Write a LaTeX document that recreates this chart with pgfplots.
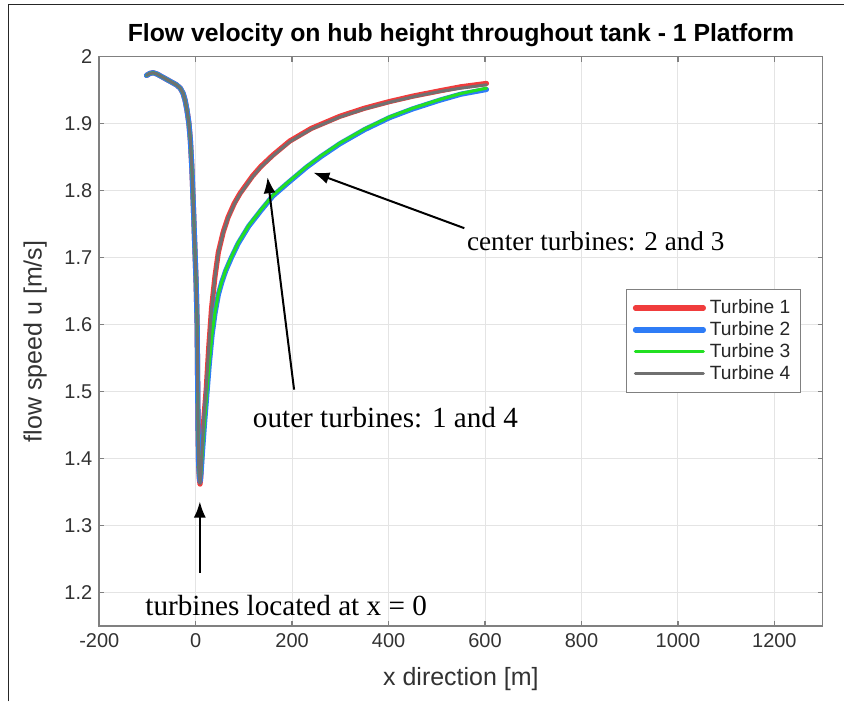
\documentclass[border=0pt]{standalone}
\usepackage{fontspec}
\setmainfont{Liberation Sans}
\newfontfamily\timesfont{Liberation Serif}
\usepackage{pgfplots}
\pgfplotsset{compat=1.18}
\usetikzlibrary{arrows.meta}

\definecolor{tred}{RGB}{240,60,60}
\definecolor{tblue}{RGB}{46,124,246}
\definecolor{tgreen}{RGB}{34,224,34}
\definecolor{tgray}{RGB}{112,112,112}
\definecolor{axgray}{RGB}{128,128,128}
\definecolor{gridgray}{RGB}{228,228,228}
\definecolor{lblgray}{RGB}{50,50,50}

\begin{document}
\begin{tikzpicture}
\begin{axis}[
    scale only axis,
    width=362pt, height=285pt,
    xmin=-200, xmax=1300,
    ymin=1.15, ymax=2,
    xtick={-200,0,200,400,600,800,1000,1200},
    ytick={1.2,1.3,1.4,1.5,1.6,1.7,1.8,1.9,2},
    scaled x ticks=false,
    /pgf/number format/assume math mode=true,
    /pgf/number format/1000 sep={},
    grid=major,
    major grid style={gridgray, line width=0.5pt},
    axis line style={axgray, line width=0.8pt},
    tick style={axgray, line width=0.8pt},
    tick align=inside,
    tick pos=both,
    major tick length=2.5pt,
    tick label style={font=\fontsize{10}{12}\selectfont, text=lblgray},
    label style={font=\fontsize{12.5}{14}\selectfont, text=lblgray},
    xlabel style={yshift=-3pt},
    ylabel style={yshift=2pt},
    xlabel={x direction [m]},
    ylabel={flow speed u [m/s]},
    title={\bfseries Flow velocity on hub height throughout tank - 1 Platform},
    title style={font=\fontsize{12.4}{14}\selectfont, yshift=-4.5pt},
    clip=false,
    legend cell align=left,
    legend style={at={(axis description cs:0.970,0.592)}, anchor=north east,
        draw=axgray, line width=0.6pt, font=\fontsize{9.6}{11}\selectfont,
        text=black!85, inner sep=3pt, row sep=-1.5pt},
    legend image code/.code={\draw[#1] (0pt,0pt) -- (34pt,0pt);},
    every axis plot/.append style={line join=round, line cap=round},
]
\addplot[tred, line width=2.6pt] coordinates {
(-102,1.972) (-95,1.975) (-88,1.976) (-80,1.974) (-70,1.970) (-60,1.966)
(-50,1.962) (-40,1.958) (-32,1.953) (-26,1.945) (-22,1.935) (-18,1.920)
(-14,1.900) (-11,1.875) (-8,1.835) (-5,1.780) (-2,1.720) (1,1.660)
(3,1.600) (4,1.520) (5,1.440) (6,1.395) (7.5,1.370) (9,1.362) (10.5,1.372)
(13,1.410) (17,1.460) (22,1.505) (27,1.565) (33,1.625) (40,1.672)
(47,1.708) (57,1.738) (67,1.760) (80,1.781) (92,1.796) (102,1.806)
(118,1.822) (135,1.836) (160,1.853) (195,1.874) (240,1.893) (299,1.911)
(350,1.923) (402,1.933) (450,1.941) (506,1.949) (550,1.955) (603,1.960)
};
\addlegendentry{Turbine 1}
\addplot[tblue, line width=2.6pt] coordinates {
(-102,1.972) (-95,1.975) (-88,1.976) (-80,1.974) (-70,1.970) (-60,1.966)
(-50,1.962) (-40,1.958) (-32,1.953) (-26,1.945) (-22,1.935) (-18,1.920)
(-14,1.900) (-11,1.875) (-8,1.835) (-5,1.780) (-2,1.720) (1,1.660)
(3,1.600) (4,1.520) (5,1.440) (6,1.398) (7.5,1.374) (9,1.366) (11,1.378)
(14,1.410) (18,1.450) (23,1.495) (28,1.540) (34,1.585) (40,1.617)
(47,1.645) (54,1.663) (62,1.680) (74,1.700) (88,1.721) (110,1.747) (136,1.771)
(160,1.792) (192,1.812) (230,1.835) (260,1.851) (299,1.870) (350,1.891)
(402,1.909) (450,1.922) (506,1.935) (550,1.944) (603,1.951)
};
\addlegendentry{Turbine 2}
\addplot[tgreen, line width=1.5pt] coordinates {
(-102,1.972) (-95,1.975) (-88,1.976) (-80,1.974) (-70,1.970) (-60,1.966)
(-50,1.962) (-40,1.958) (-32,1.953) (-26,1.945) (-22,1.935) (-18,1.920)
(-14,1.900) (-11,1.875) (-8,1.835) (-5,1.780) (-2,1.720) (1,1.660)
(3,1.600) (4,1.520) (5,1.440) (6,1.398) (7.5,1.375) (9,1.367) (11,1.379)
(14,1.411) (18,1.451) (23,1.496) (28,1.541) (34,1.586) (40,1.618)
(47,1.646) (54,1.664) (62,1.681) (74,1.701) (88,1.722) (110,1.748) (136,1.772)
(160,1.793) (192,1.813) (230,1.836) (260,1.852) (299,1.871) (350,1.892)
(402,1.910) (450,1.923) (506,1.936) (550,1.945) (603,1.953)
};
\addlegendentry{Turbine 3}
\addplot[tgray, line width=1.5pt] coordinates {
(-102,1.972) (-95,1.975) (-88,1.976) (-80,1.974) (-70,1.970) (-60,1.966)
(-50,1.962) (-40,1.958) (-32,1.953) (-26,1.945) (-22,1.935) (-18,1.920)
(-14,1.900) (-11,1.875) (-8,1.835) (-5,1.780) (-2,1.720) (1,1.660)
(3,1.600) (4,1.520) (5,1.440) (6,1.396) (7.5,1.371) (9,1.363) (10.5,1.373)
(13,1.411) (17,1.461) (22,1.506) (27,1.566) (33,1.625) (40,1.671)
(47,1.707) (57,1.737) (67,1.759) (80,1.780) (92,1.795) (102,1.805)
(118,1.821) (135,1.835) (160,1.852) (195,1.873) (240,1.892) (299,1.910)
(350,1.922) (402,1.932) (450,1.940) (506,1.948) (550,1.953) (603,1.958)
};
\addlegendentry{Turbine 4}
% annotations
\draw[-{Latex[length=8pt,width=6pt]}, line width=1pt] (axis cs:557,1.744) -- (axis cs:244,1.827);
\draw[-{Latex[length=8pt,width=6pt]}, line width=1pt] (axis cs:204,1.503) -- (axis cs:149,1.820);
\draw[-{Latex[length=8pt,width=6pt]}, line width=1pt] (axis cs:8.6,1.230) -- (axis cs:8.6,1.336);
\node[anchor=west, inner sep=0pt, font=\timesfont\fontsize{13.6}{16}\selectfont] at (axis cs:562,1.725) {center turbines: 2 and 3};
\node[anchor=west, inner sep=0pt, font=\timesfont\fontsize{14.6}{16}\selectfont] at (axis cs:118,1.461) {outer turbines: 1 and 4};
\node[anchor=west, inner sep=0pt, font=\timesfont\fontsize{14.6}{16}\selectfont] at (axis cs:-105,1.181) {turbines located at x = 0};
% outer frame of the figure
\draw[black!85, line width=0.7pt] (axis description cs:-0.1257,-0.1321) -- (axis description cs:-0.1257,1.0912) -- (axis description cs:1.030,1.0912);
\path (axis description cs:-0.1372,1.0995) -- (axis description cs:1.030,-0.1321);
\end{axis}
\end{tikzpicture}
\end{document}
